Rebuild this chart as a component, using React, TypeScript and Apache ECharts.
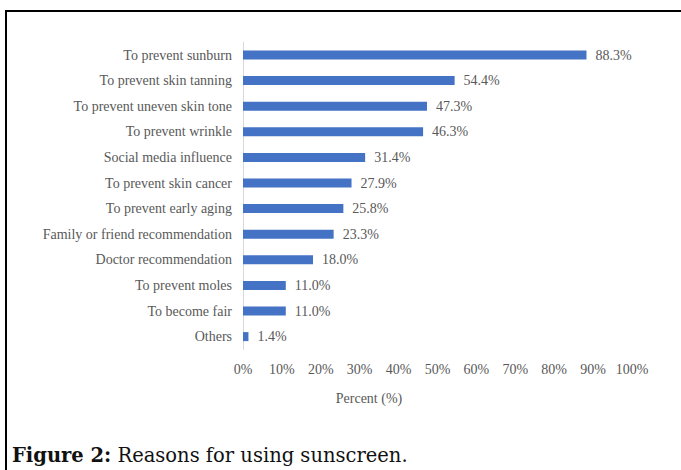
import React, { useEffect, useRef } from "react";
import * as echarts from "echarts";

const categories = [
  "To prevent sunburn",
  "To prevent skin tanning",
  "To prevent uneven skin tone",
  "To prevent wrinkle",
  "Social media influence",
  "To prevent skin cancer",
  "To prevent early aging",
  "Family or friend recommendation",
  "Doctor recommendation",
  "To prevent moles",
  "To become fair",
  "Others",
];
const percents = [88.3, 54.4, 47.3, 46.3, 31.4, 27.9, 25.8, 23.3, 18.0, 11.0, 11.0, 1.4];
const xTicks = { min: 0, max: 100, interval: 10 };
const axisTitle = "Percent (%)";
const captionBold = "Figure 2:";
const captionText = " Reasons for using sunscreen.";

const SERIF = "'Liberation Serif', 'Times New Roman', serif";
const GRAY = "#595959";

export default function App() {
  const ref = useRef<HTMLDivElement>(null);
  useEffect(() => {
    if (!ref.current) return;
    const chart = echarts.init(ref.current, null, { renderer: "svg" });
    chart.setOption({
      animation: false,
      backgroundColor: "#ffffff",
      grid: { left: 243, right: 49, top: 42.2, bottom: 120.6, containLabel: false },
      xAxis: {
        type: "value",
        min: xTicks.min,
        max: xTicks.max,
        interval: xTicks.interval,
        axisLine: { show: false },
        axisTick: { show: false },
        splitLine: { show: false },
        axisLabel: {
          formatter: "{value}%",
          color: GRAY,
          fontFamily: SERIF,
          fontSize: 14,
          margin: 13,
        },
      },
      yAxis: {
        type: "category",
        data: categories,
        inverse: true,
        axisLine: { show: true, lineStyle: { color: "#d9d9d9", width: 1 } },
        axisTick: { show: false },
        splitLine: { show: false },
        axisLabel: {
          color: GRAY,
          fontFamily: SERIF,
          fontSize: 14,
          margin: 11,
        },
      },
      series: [
        {
          type: "bar",
          data: percents,
          barWidth: 9,
          itemStyle: { color: "#4472C4" },
          label: {
            show: true,
            position: "right",
            distance: 9,
            color: GRAY,
            fontFamily: SERIF,
            fontSize: 14,
            formatter: (p: any) => Number(p.value).toFixed(1) + "%",
          },
        },
      ],
      graphic: [
        {
          type: "line",
          shape: { x1: 6, y1: 11, x2: 681, y2: 11 },
          style: { stroke: "#000", lineWidth: 2 },
        },
        {
          type: "line",
          shape: { x1: 6, y1: 10, x2: 6, y2: 470 },
          style: { stroke: "#000", lineWidth: 2 },
        },
        {
          type: "text",
          x: 369,
          y: 398,
          style: {
            text: axisTitle,
            fill: GRAY,
            font: `14px ${SERIF}`,
            align: "center",
            verticalAlign: "middle",
          },
        },
        {
          type: "text",
          x: 12,
          y: 455,
          style: {
            text: `{b|${captionBold}}{r|${captionText}}`,
            verticalAlign: "middle",
            rich: {
              b: { fontFamily: "'DejaVu Serif', serif", fontSize: 19.5, fontWeight: "bold", fill: "#111" },
              r: { fontFamily: "'DejaVu Serif', serif", fontSize: 19.5, fill: "#111" },
            },
          },
        },
      ],
    });
    return () => chart.dispose();
  }, []);
  return (
    <div
      ref={ref}
      style={{ position: "fixed", left: 0, top: 0, width: 681, height: 470, background: "#fff" }}
    />
  );
}
